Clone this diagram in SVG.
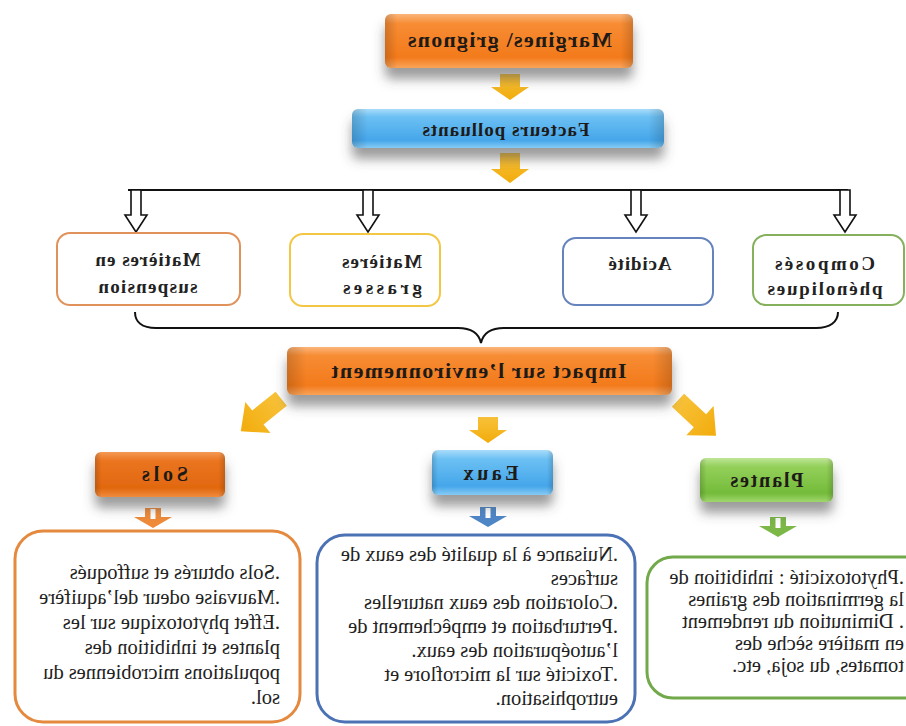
<svg xmlns="http://www.w3.org/2000/svg" xmlns:xlink="http://www.w3.org/1999/xlink" width="906" height="726" viewBox="0 0 906 726">
<defs>
<style>
.hd{font-family:"Liberation Serif","Times New Roman",serif;font-weight:bold;fill:#1e1a18;text-anchor:middle}
.lb{font-family:"Liberation Serif","Times New Roman",serif;font-weight:bold;fill:#222;font-size:19px}
.bd{font-family:"Liberation Serif","Times New Roman",serif;fill:#222;font-size:20.5px}
.wb{fill:#fff;stroke-width:2}
.tb{fill:#fff;stroke-width:3}
.ya{fill:url(#gy)}
.ha{fill:#fff;stroke:#111;stroke-width:1.6}
.bev{fill:url(#gbev)}
</style>
<linearGradient id="go" x1="0" y1="0" x2="0" y2="1">
<stop offset="0" stop-color="#fcb57a"/><stop offset="0.18" stop-color="#f78c33"/><stop offset="0.8" stop-color="#f37a1c"/><stop offset="1" stop-color="#f9a45a"/>
</linearGradient>
<linearGradient id="go2" x1="0" y1="0" x2="0" y2="1">
<stop offset="0" stop-color="#f49a55"/><stop offset="0.2" stop-color="#ea7420"/><stop offset="0.8" stop-color="#e2680f"/><stop offset="1" stop-color="#ef8c40"/>
</linearGradient>
<linearGradient id="gb" x1="0" y1="0" x2="0" y2="1">
<stop offset="0" stop-color="#a9dcfa"/><stop offset="0.2" stop-color="#6cc0f3"/><stop offset="0.8" stop-color="#45a6ea"/><stop offset="1" stop-color="#86cbf4"/>
</linearGradient>
<linearGradient id="gg" x1="0" y1="0" x2="0" y2="1">
<stop offset="0" stop-color="#bfe596"/><stop offset="0.2" stop-color="#93d05a"/><stop offset="0.8" stop-color="#74bb3a"/><stop offset="1" stop-color="#a0d66e"/>
</linearGradient>
<linearGradient id="gy" x1="0" y1="0" x2="0" y2="1">
<stop offset="0" stop-color="#f8c23a"/><stop offset="1" stop-color="#f2ac0c"/>
</linearGradient>
<linearGradient id="gbev" x1="0" y1="0" x2="1" y2="0">
<stop offset="0" stop-color="#000" stop-opacity="0.16"/><stop offset="0.05" stop-color="#000" stop-opacity="0"/><stop offset="0.95" stop-color="#000" stop-opacity="0"/><stop offset="1" stop-color="#000" stop-opacity="0.16"/>
</linearGradient>
<filter id="sh" x="-10%" y="-30%" width="120%" height="190%">
<feGaussianBlur in="SourceAlpha" stdDeviation="6"/>
<feOffset dy="11" result="b"/>
<feFlood flood-color="#4a4a4a" flood-opacity="0.55"/>
<feComposite in2="b" operator="in"/>
<feMerge><feMergeNode/><feMergeNode in="SourceGraphic"/></feMerge>
</filter>
<path id="hollow" d="M-5,0 L5,0 L5,25 L11,25 L0,42 L-11,25 L-5,25 Z"/>
<path id="smallarr" d="M-8,0 L8,0 L8,9 L19,9 L0,20 L-19,9 L-8,9 Z"/>
</defs>

<rect width="906" height="726" fill="#fff"/>

<g transform="matrix(-1 0 0 1 906 0)">

<g id="connectors">
<path class="ya" d="M-10,-13 L10,-13 L10,0 L19,0 L0,13 L-19,0 L-10,0 Z" transform="translate(396,87)"/>
<path class="ya" d="M-10,-15 L10,-15 L10,1 L19,1 L0,15 L-19,1 L-10,1 Z" transform="translate(396,168)"/>
<line x1="58" y1="190" x2="778" y2="190" stroke="#111" stroke-width="2"/>
<use xlink:href="#hollow" class="ha" transform="translate(770,190)"/>
<use xlink:href="#hollow" class="ha" transform="translate(538,190)"/>
<use xlink:href="#hollow" class="ha" transform="translate(270,190)"/>
<use xlink:href="#hollow" class="ha" transform="translate(61,190)"/>
<path d="M771,312 C771,322 764,328 750,328 L448,328 C434,328 427,334 425,343 C423,334 416,328 402,328 L90,328 C76,328 68,322 68,312" fill="none" stroke="#111" stroke-width="2"/>
<path class="ya" d="M-9,-26 L9,-26 L9,4 L20,4 L0,26 L-20,4 L-9,4 Z" transform="translate(645,415) rotate(-51)"/>
<path class="ya" d="M-10,-13 L10,-13 L10,0 L19,0 L0,13 L-19,0 L-10,0 Z" transform="translate(418,430)"/>
<path class="ya" d="M-9,-26 L9,-26 L9,4 L20,4 L0,26 L-20,4 L-9,4 Z" transform="translate(209,418) rotate(47)"/>
<use xlink:href="#smallarr" fill="#ee8a3a" transform="translate(753,508)"/>
<rect x="750.5" y="509" width="5" height="10" fill="#fff"/>
<use xlink:href="#smallarr" fill="#4f86c6" transform="translate(418,507)"/>
<rect x="415.5" y="508" width="5" height="10" fill="#fff"/>
<use xlink:href="#smallarr" fill="#7cb848" transform="translate(128,517)"/>
<rect x="125.5" y="518" width="5" height="10" fill="#fff"/>
</g>

<g id="n-margines">
<g filter="url(#sh)"><rect x="273" y="14" width="248" height="54" rx="6" fill="url(#go)"/></g>
<rect x="273" y="14" width="248" height="54" rx="6" class="bev"/>
<text class="hd" x="396" y="47" font-size="22" textLength="204" lengthAdjust="spacing" fill="#2b1b10">Margines\ grignons</text>
</g>

<g id="n-facteurs">
<g filter="url(#sh)"><rect x="242" y="109" width="312" height="39" rx="6" fill="url(#gb)"/></g>
<rect x="242" y="109" width="312" height="39" rx="6" class="bev"/>
<text class="hd" x="400" y="136" font-size="19" textLength="167" lengthAdjust="spacing" fill="#16213a">Facteurs polluants</text>
</g>

<g id="n-suspension">
<rect class="wb" x="666" y="233" width="183" height="72" rx="13" stroke="#e0925a"/>
<text class="lb" x="758" y="266" text-anchor="middle" textLength="105" lengthAdjust="spacing">Matières en</text>
<text class="lb" x="758" y="293" text-anchor="middle" textLength="99" lengthAdjust="spacing">suspension</text>
</g>

<g id="n-grasses">
<rect class="wb" x="466" y="234" width="150" height="72" rx="13" stroke="#f2c744"/>
<text class="lb" x="484" y="268" textLength="80" lengthAdjust="spacing">Matières</text>
<text class="lb" x="484" y="294" textLength="79" lengthAdjust="spacing">grasses</text>
</g>

<g id="n-acidite">
<rect class="wb" x="193" y="238" width="150" height="67" rx="13" stroke="#6583bd"/>
<text class="lb" x="266" y="270" text-anchor="middle" textLength="63" lengthAdjust="spacing">Acidité</text>
</g>

<g id="n-phenol">
<rect class="wb" x="2" y="235" width="151" height="70" rx="13" stroke="#86b15c"/>
<text class="lb" x="81" y="270" text-anchor="middle" textLength="100" lengthAdjust="spacing">Composés</text>
<text class="lb" x="81" y="295" text-anchor="middle" textLength="115" lengthAdjust="spacing">phénoliques</text>
</g>

<g id="n-impact">
<g filter="url(#sh)"><rect x="234" y="347" width="385" height="48" rx="6" fill="url(#go)"/></g>
<rect x="234" y="347" width="385" height="48" rx="6" class="bev"/>
<text class="hd" x="427" y="378" font-size="22" textLength="295" lengthAdjust="spacing" fill="#20160f">Impact sur l’environnement</text>
</g>

<g id="n-sols">
<g filter="url(#sh)"><rect x="681" y="452" width="130" height="45" rx="6" fill="url(#go2)"/></g>
<rect x="681" y="452" width="130" height="45" rx="6" class="bev"/>
<text class="hd" x="741" y="481" font-size="20" textLength="46" lengthAdjust="spacing" fill="#22160e">Sols</text>
</g>

<g id="n-eaux">
<g filter="url(#sh)"><rect x="353" y="450" width="121" height="45" rx="6" fill="url(#gb)"/></g>
<rect x="353" y="450" width="121" height="45" rx="6" class="bev"/>
<text class="hd" x="415" y="480" font-size="20" textLength="55" lengthAdjust="spacing" fill="#16213a">Eaux</text>
</g>

<g id="n-plantes">
<g filter="url(#sh)"><rect x="73" y="458" width="133" height="44" rx="6" fill="url(#gg)"/></g>
<rect x="73" y="458" width="133" height="44" rx="6" class="bev"/>
<text class="hd" x="139" y="487" font-size="20" textLength="73" lengthAdjust="spacing" fill="#1a2410">Plantes</text>
</g>

<g id="n-sols-text">
<rect class="tb" x="606" y="531" width="285" height="191" rx="28" stroke="#e4893e"/>
<text class="bd" x="626" y="579">.Sols obturés et suffoqués</text>
<text class="bd" x="626" y="604">.Mauvaise odeur del’aquifère</text>
<text class="bd" x="626" y="629">.Effet phytotoxique sur les</text>
<text class="bd" x="626" y="654">plantes et inhibition des</text>
<text class="bd" x="626" y="679">populations microbiennes du</text>
<text class="bd" x="626" y="704">sol.</text>
</g>

<g id="n-eaux-text">
<rect class="tb" x="271" y="535" width="318" height="187" rx="28" stroke="#4c72b6"/>
<text class="bd" x="288" y="561">.Nuisance à la qualité des eaux de</text>
<text class="bd" x="288" y="585">surfaces</text>
<text class="bd" x="288" y="609">.Coloration des eaux naturelles</text>
<text class="bd" x="288" y="633">.Perturbation et empêchement de</text>
<text class="bd" x="288" y="657">l’autoépuration des eaux.</text>
<text class="bd" x="288" y="681">.Toxicité sur la microflore et</text>
<text class="bd" x="288" y="705">eutrophisation.</text>
</g>

<g id="n-plantes-text">
<rect class="tb" x="-30" y="557" width="289" height="141" rx="26" stroke="#72a94a"/>
<text class="bd" x="2" y="584">.Phytotoxicité : inhibition de</text>
<text class="bd" x="2" y="606">la germination des graines</text>
<text class="bd" x="2" y="628">. Diminution du rendement</text>
<text class="bd" x="2" y="650">en matière sèche des</text>
<text class="bd" x="2" y="672">tomates, du soja, etc.</text>
</g>

</g>
</svg>
